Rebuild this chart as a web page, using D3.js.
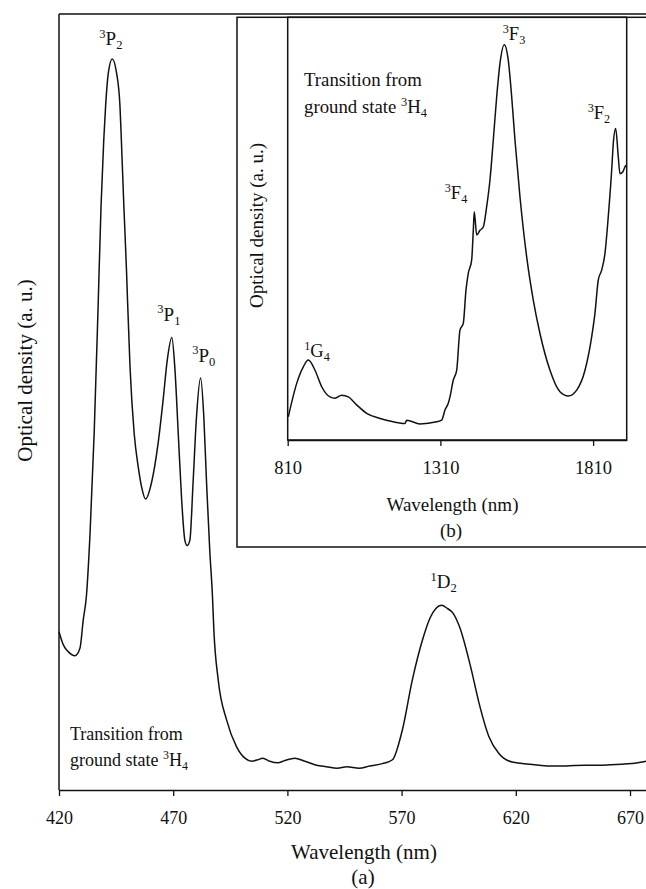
<!DOCTYPE html>
<html>
<head>
<meta charset="utf-8">
<script src="https://cdn.jsdelivr.net/npm/d3@7"></script>
<style>
  html, body { margin: 0; padding: 0; background: #fff; }
  svg { display: block; }
  svg text { font-family: "Liberation Serif", "Times New Roman", serif; }
</style>
</head>
<body>
<svg id="chart" width="646" height="889"></svg>
<script>
// ---------- data ----------
const mainWavelength = [420,421.9,424.1,427,429.2,430.6,432,433.6,435.4,437.2,438.4,439.6,440.4,441.6,443.3,445.2,446.7,447.3,448.4,449.6,450.0,451.1,452.9,454.7,456.2,457.9,460.5,463.4,465.6,467.4,469.4,470.7,472.2,473.7,475.1,476.1,477.3,478.7,480.2,482.0,483.4,484.6,486.0,487.2,487.8,489.7,493.4,497.7,501.4,504.4,507,509.2,512.3,515.8,518.9,523.2,527.6,532.7,537,541.8,546,551.4,556,561.6,566,570.3,574.7,579.1,582.5,585,587.5,590,592.5,595.4,600.2,603.9,608.2,612.6,618.4,627.2,635,641.8,650,656.4,664,671,675.3,677];
const mainDensity = [0.204,0.187,0.178,0.173,0.183,0.219,0.250,0.331,0.460,0.631,0.752,0.838,0.881,0.924,0.942,0.924,0.881,0.838,0.752,0.666,0.631,0.545,0.460,0.416,0.390,0.375,0.396,0.447,0.503,0.554,0.583,0.545,0.460,0.374,0.322,0.315,0.322,0.396,0.481,0.531,0.481,0.396,0.309,0.249,0.206,0.142,0.090,0.056,0.041,0.037,0.039,0.041,0.037,0.035,0.038,0.041,0.037,0.032,0.030,0.028,0.030,0.028,0.031,0.034,0.039,0.077,0.142,0.193,0.222,0.234,0.238,0.234,0.228,0.210,0.159,0.112,0.069,0.047,0.036,0.033,0.031,0.031,0.032,0.032,0.033,0.034,0.036,0.037];

const insetWavelength = [812,839.5,861.1,877.4,899.4,921.3,948.5,964.9,986.8,1008.4,1035.9,1068.6,1112.2,1155.7,1194,1199.6,1243.1,1297.8,1314.2,1325,1335.8,1341.4,1352.2,1363.3,1374.1,1384.9,1393.8,1401.3,1412.4,1417.7,1420.9,1428.8,1439.6,1450.4,1461.5,1472.3,1483.1,1494.3,1505.1,1519.2,1532.3,1543.4,1554.2,1570.6,1592.5,1614.1,1636,1668.8,1701.5,1728.7,1756.2,1783.4,1805.3,1816.1,1826.9,1838,1848.8,1859.6,1870.8,1876,1883.9,1892.4,1897.9,1906.8,1914.3,1917.6];
const insetDensity = [0.055,0.134,0.173,0.189,0.165,0.126,0.102,0.099,0.106,0.102,0.083,0.063,0.051,0.043,0.039,0.047,0.038,0.043,0.047,0.071,0.087,0.102,0.142,0.165,0.260,0.276,0.355,0.394,0.426,0.496,0.540,0.485,0.496,0.504,0.552,0.615,0.709,0.812,0.891,0.935,0.898,0.812,0.709,0.575,0.433,0.331,0.252,0.165,0.114,0.104,0.118,0.165,0.244,0.300,0.378,0.402,0.441,0.528,0.638,0.701,0.737,0.670,0.630,0.634,0.646,0.650];

const mainTicks = [420,470,520,570,620,670];
const insetTicks = [810,1310,1810];

// peak labels: superscript, letter, subscript, label wavelength, label level
const mainPeakSup = ["3","3","3","1"];
const mainPeakLetter = ["P","P","P","D"];
const mainPeakSub = ["2","1","0","2"];
const mainPeakX = [442.7,468.1,483.4,588.4];
const mainPeakY = [0.960,0.605,0.552,0.260];

const insetPeakSup = ["3","3","3","1"];
const insetPeakLetter = ["F","F","F","G"];
const insetPeakSub = ["3","2","4","4"];
const insetPeakX = [1551,1829,1361,906];
const insetPeakY = [0.947,0.760,0.571,0.196];

// ---------- drawing ----------
const FONT = "'Liberation Serif', 'Times New Roman', serif";
const svg = d3.select("#chart");
const INK = "#111";

function richText(g, x, y, parts, size, anchor) {
  const t = g.append("text").attr("x", x).attr("y", y)
    .attr("text-anchor", anchor || "start")
    .style("font-family", FONT).attr("fill", INK)
    .style("font-size", size + "px");
  let shift = 0;
  parts.forEach(([s, kind]) => {
    const target = kind === "sup" ? -0.38 * size : kind === "sub" ? 0.22 * size : 0;
    t.append("tspan").text(s)
      .attr("dy", target - shift)
      .style("font-size", (kind === "n" ? size : size * 0.66) + "px");
    shift = target;
  });
  return t;
}
function plainText(g, x, y, s, size, transform) {
  const t = g.append("text").attr("text-anchor", "middle")
    .style("font-family", FONT).attr("fill", INK).style("font-size", size + "px").text(s);
  if (transform) t.attr("transform", transform); else t.attr("x", x).attr("y", y);
  return t;
}

// ===== main chart =====
const mL = 59, mR = 646, mT = 14, mB = 790;
const x = d3.scaleLinear().domain([420, 677]).range([mL, mR]);
const y = d3.scaleLinear().domain([0, 1]).range([mB, mT]);

const main = svg.append("g");

main.append("line").attr("x1", mL).attr("x2", mL).attr("y1", mT).attr("y2", mB)
  .attr("stroke", INK).attr("stroke-width", 1.5);
main.append("line").attr("x1", mL).attr("x2", mR).attr("y1", mT).attr("y2", mT)
  .attr("stroke", INK).attr("stroke-width", 1.6);

const xAxis = main.append("g").attr("transform", `translate(0,${mB})`)
  .call(d3.axisBottom(x).tickValues(mainTicks).tickSize(6).tickSizeOuter(0).tickFormat(d3.format("d")));
xAxis.select(".domain").attr("stroke", INK).attr("stroke-width", 1.5);
xAxis.selectAll(".tick line").attr("stroke", INK).attr("stroke-width", 1.3);
xAxis.selectAll(".tick text").attr("y", 34).attr("dy", 0)
  .style("font-family", FONT).style("font-size", "18px").attr("fill", INK);

const line = d3.line().x((d, i) => x(mainWavelength[i])).y(d => y(d)).curve(d3.curveMonotoneX);
main.append("path").datum(mainDensity).attr("d", line)
  .attr("fill", "none").attr("stroke", INK).attr("stroke-width", 1.5);

plainText(main, 364, 859, "Wavelength (nm)", 21);
plainText(main, 363, 884, "(a)", 21);
plainText(main, 0, 0, "Optical density (a. u.)", 21, "translate(31.5,370.5) rotate(-90)");

richText(main, 70, 739.5, [["Transition from", "n"]], 18);
richText(main, 70, 766, [["ground state ", "n"], ["3", "sup"], ["H", "n"], ["4", "sub"]], 18);

mainPeakLetter.forEach((L, i) => {
  richText(main, x(mainPeakX[i]), y(mainPeakY[i]),
    [[mainPeakSup[i], "sup"], [L, "n"], [mainPeakSub[i], "sub"]], 19, "middle");
});

// ===== inset chart =====
const bL = 237, bB = 547, bT = 17.3, bR = 660;
const iL = 287.7, iR = 626.7, iT = 17.3, iB = 440;
const xi = d3.scaleLinear().domain([810, 1920]).range([iL, iR]);
const yi = d3.scaleLinear().domain([0, 1]).range([iB, iT]);

const inset = svg.append("g");
inset.append("rect").attr("x", bL).attr("y", bT).attr("width", bR - bL).attr("height", bB - bT)
  .attr("fill", "#fff").attr("stroke", INK).attr("stroke-width", 1.5);
inset.append("rect").attr("x", iL).attr("y", iT).attr("width", iR - iL).attr("height", iB - iT)
  .attr("fill", "none").attr("stroke", INK).attr("stroke-width", 1.5);

const xiAxis = inset.append("g").attr("transform", `translate(0,${iB})`)
  .call(d3.axisBottom(xi).tickValues(insetTicks).tickSize(6).tickSizeOuter(0).tickFormat(d3.format("d")));
xiAxis.select(".domain").attr("stroke", INK).attr("stroke-width", 1.5);
xiAxis.selectAll(".tick line").attr("stroke", INK).attr("stroke-width", 1.3);
xiAxis.selectAll(".tick text").attr("y", 34).attr("dy", 0)
  .style("font-family", FONT).style("font-size", "18.5px").attr("fill", INK);

const lineI = d3.line().x((d, i) => xi(insetWavelength[i])).y(d => yi(d)).curve(d3.curveMonotoneX);
inset.append("path").datum(insetDensity).attr("d", lineI)
  .attr("fill", "none").attr("stroke", INK).attr("stroke-width", 1.5);

plainText(inset, 452.5, 511, "Wavelength (nm)", 19);
plainText(inset, 451, 536.5, "(b)", 19);
plainText(inset, 0, 0, "Optical density (a. u.)", 19, "translate(263,225.5) rotate(-90)");

richText(inset, 304, 86, [["Transition from", "n"]], 18.8);
richText(inset, 304, 113.3, [["ground state ", "n"], ["3", "sup"], ["H", "n"], ["4", "sub"]], 18.8);

insetPeakLetter.forEach((L, i) => {
  richText(inset, xi(insetPeakX[i]), yi(insetPeakY[i]),
    [[insetPeakSup[i], "sup"], [L, "n"], [insetPeakSub[i], "sub"]], 18.5, "middle");
});
</script>
</body>
</html>
